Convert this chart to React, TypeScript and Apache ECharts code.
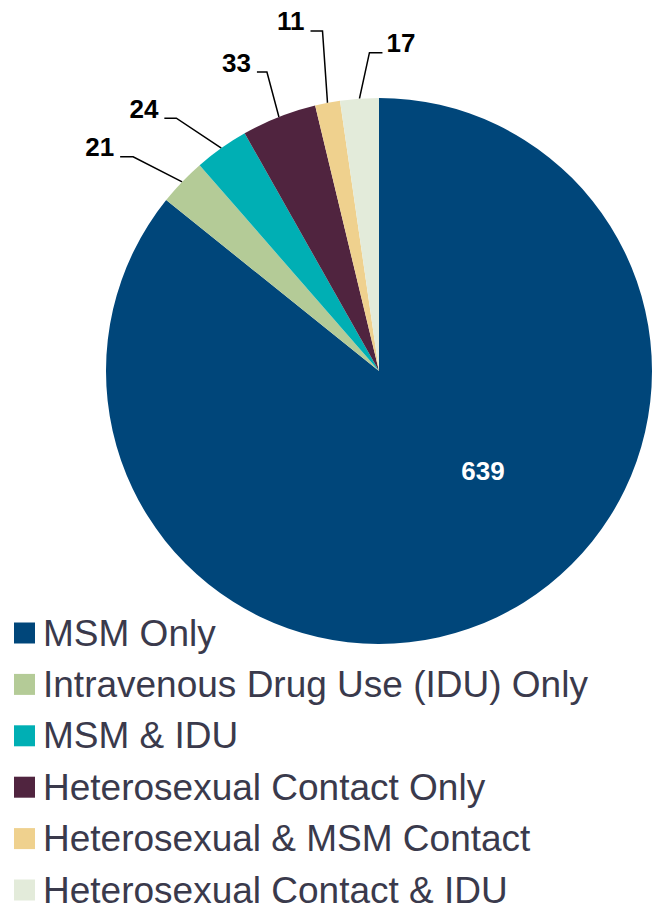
import React, { useEffect, useRef } from "react";
import * as echarts from "echarts";

const categories = [
  "MSM Only",
  "Intravenous Drug Use (IDU) Only",
  "MSM & IDU",
  "Heterosexual Contact Only",
  "Heterosexual & MSM Contact",
  "Heterosexual Contact & IDU",
];
const values = [639, 21, 24, 33, 11, 17];
const colors = ["#00467A", "#B4CB97", "#00AFB4", "#50243F", "#EFD18E", "#E3EBDA"];

// layout (pixels)
const CX = 379;
const CY = 371;
const R = 273;
// leader-line guides per slice: [elbow dx, elbow dy, horizontal run] relative to slice edge
const guides: number[][] = [
  [0, 0, 0],
  [-49, -25, -13],
  [-45, -30, -12],
  [-12, -45, -10],
  [-5, -72, -12],
  [10, -46, 13],
];
const insideOffset = [104, 100];

const total = values.reduce((a, b) => a + b, 0);
function edgePoint(i: number): number[] {
  const before = values.slice(0, i).reduce((a, b) => a + b, 0);
  const mid = ((before + values[i] / 2) / total) * Math.PI * 2;
  return [CX + R * Math.sin(mid), CY - R * Math.cos(mid)];
}

export default function App() {
  const ref = useRef<HTMLDivElement>(null);
  useEffect(() => {
    if (!ref.current) return;
    const chart = echarts.init(ref.current, undefined, { renderer: "svg" });
    const font = "'Liberation Sans', Arial, sans-serif";
    chart.setOption({
      animation: false,
      color: colors,
      legend: {
        type: "plain",
        orient: "vertical",
        left: 14,
        top: 614.5,
        height: 320,
        icon: "rect",
        itemWidth: 21,
        itemHeight: 21,
        itemGap: 14.4,
        padding: 0,
        selectedMode: false,
        data: categories,
        textStyle: {
          fontSize: 37,
          color: "#3A3A4C",
          fontFamily: font,
          padding: [0, 0, 0, 3],
        },
      },
      series: [
        {
          type: "pie",
          center: [CX, CY],
          radius: [0, R],
          startAngle: 90,
          clockwise: true,
          avoidLabelOverlap: false,
          silent: true,
          emphasis: { disabled: true },
          label: {
            show: true,
            position: "outside",
            formatter: "{c}",
            fontSize: 26,
            fontWeight: "bold",
            color: "#000",
            fontFamily: font,
          },
          labelLine: {
            show: true,
            length: 20,
            length2: 10,
            lineStyle: { color: "#000", width: 1.5 },
          },
          labelLayout: (params: any) => {
            const i = params.dataIndex;
            if (i === 0) {
              return {
                x: CX + insideOffset[0],
                y: CY + insideOffset[1],
                align: "center",
                verticalAlign: "middle",
              };
            }
            const e = edgePoint(i);
            const g = guides[i];
            const elbow = [e[0] + g[0], e[1] + g[1]];
            const end = [elbow[0] + g[2], elbow[1]];
            const left = g[2] < 0;
            return {
              x: left ? end[0] - 6 : end[0] + 4,
              y: end[1] - 9.5,
              align: left ? "right" : "left",
              verticalAlign: "middle",
              labelLinePoints: [e, elbow, end],
            };
          },
          data: categories.map((name, i) =>
            i === 0
              ? {
                  name,
                  value: values[i],
                  label: { position: "inside", color: "#fff" },
                  labelLine: { show: false },
                }
              : { name, value: values[i] }
          ),
        },
      ],
    });
    return () => chart.dispose();
  }, []);
  return (
    <div
      ref={ref}
      style={{ position: "fixed", left: 0, top: 0, width: 655, height: 909, background: "#fff" }}
    />
  );
}
